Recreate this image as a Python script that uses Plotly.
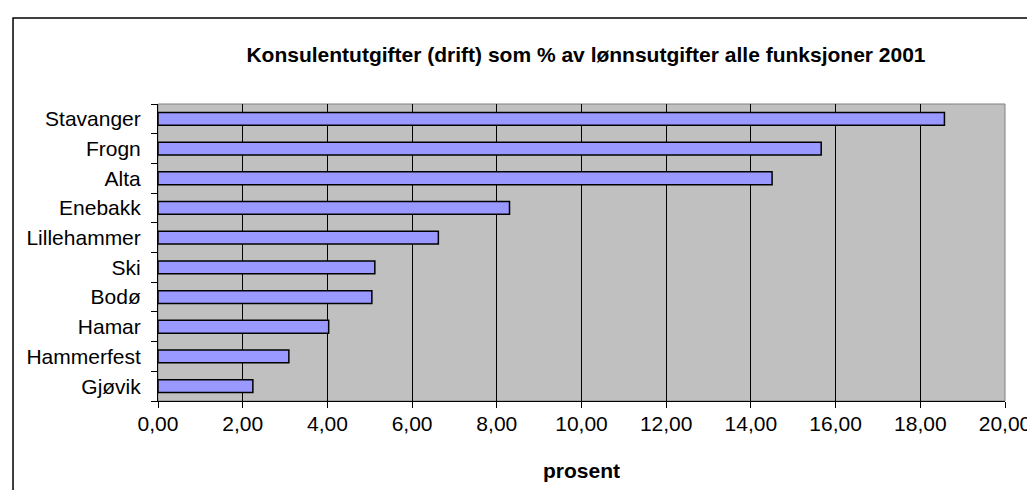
import plotly.graph_objects as go

categories = ["Stavanger", "Frogn", "Alta", "Enebakk", "Lillehammer",
              "Ski", "Bodø", "Hamar", "Hammerfest", "Gjøvik"]
values = [18.57, 15.66, 14.50, 8.30, 6.62, 5.12, 5.05, 4.03, 3.09, 2.24]
x_ticks = [0, 2, 4, 6, 8, 10, 12, 14, 16, 18, 20]

title_text = "Konsulentutgifter (drift) som % av lønnsutgifter alle funksjoner 2001"
x_title = "prosent"

FONT = "Liberation Sans, Arial, sans-serif"
FS = 21

fig = go.Figure(go.Bar(
    y=categories,
    x=values,
    orientation="h",
    width=0.43,
    marker=dict(color="#9999FF", line=dict(color="#000000", width=1.5)),
))

W, H = 1035, 490
L, R, T, B = 150, 32, 96, 97
pw, ph = W - L - R, H - T - B

def px_x(px):
    return (px - L) / pw

def px_y(py):
    return (H - B - py) / ph

fig.update_layout(
    width=W, height=H,
    margin=dict(l=L, r=R, t=T, b=B, pad=0),
    paper_bgcolor="white",
    plot_bgcolor="#C0C0C0",
    separators=", ",
    showlegend=False,
    font=dict(family=FONT, size=FS, color="#000000"),
    title=dict(text="<b>" + title_text + "</b>", x=578 / W, xanchor="center",
               y=1 - 47 / H, yanchor="middle",
               font=dict(family=FONT, size=FS, color="#000000")),
    xaxis=dict(
        range=[0, 20], tickvals=x_ticks, tickformat=".2f",
        showgrid=True, gridcolor="#000000", gridwidth=1,
        zeroline=False,
        showline=True, linecolor="#000000", linewidth=1,
        ticks="outside", ticklen=6, tickcolor="#000000",
        ticklabelstandoff=-2,
        tickfont=dict(family=FONT, size=FS),
        title=dict(text="<b>" + x_title + "</b>", standoff=29,
                   font=dict(family=FONT, size=FS)),
        fixedrange=True,
    ),
    yaxis=dict(
        categoryorder="array", categoryarray=categories[::-1],
        showgrid=False, zeroline=False,
        showline=True, linecolor="#000000", linewidth=1,
        ticks="outside", ticklen=6, tickcolor="#000000", tickson="boundaries",
        ticklabelstandoff=12,
        tickfont=dict(family=FONT, size=FS),
        fixedrange=True,
    ),
    shapes=[
        dict(type="rect", xref="paper", yref="paper", x0=0, x1=1, y0=0, y1=1,
             line=dict(color="#808080", width=1), layer="below"),
        dict(type="rect", xref="paper", yref="paper",
             x0=px_x(4), x1=px_x(1045), y0=px_y(500), y1=px_y(10),
             line=dict(color="#000000", width=1.5)),
    ],
)

fig.write_html("out.html")
